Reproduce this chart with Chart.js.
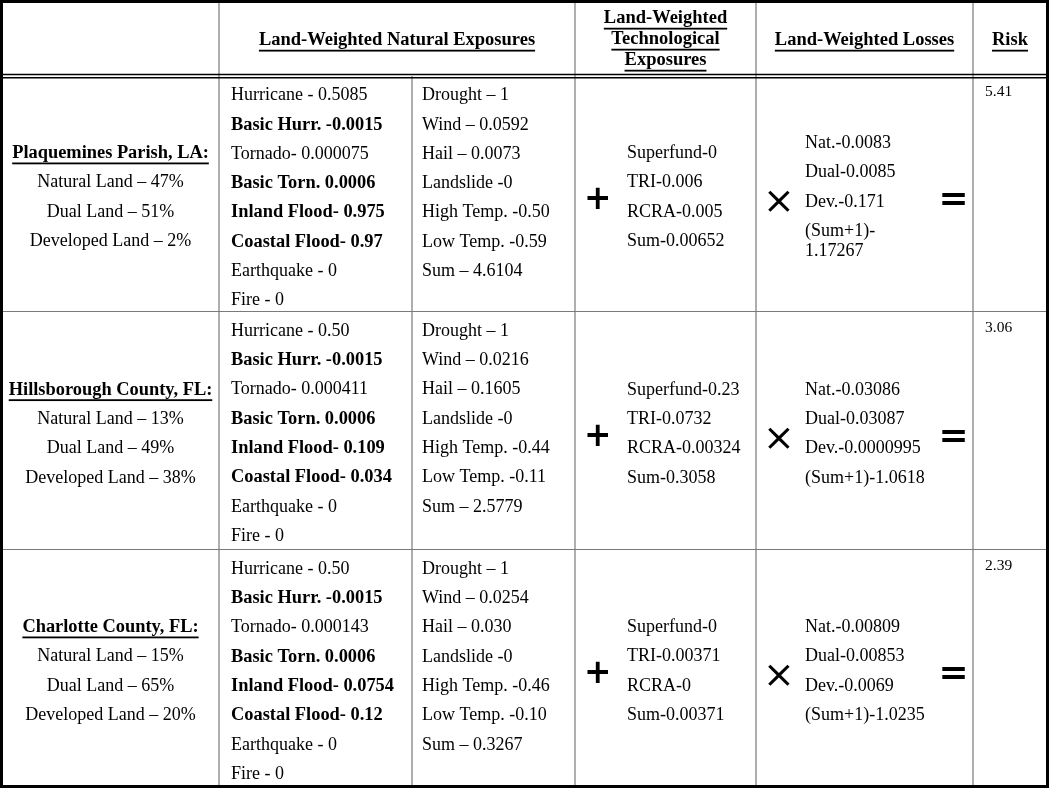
<!DOCTYPE html>
<html>
<head>
<meta charset="UTF-8">
<title>Land-Weighted Risk</title>
<script src="https://cdn.jsdelivr.net/npm/chart.js"></script>
<style>
  body { margin: 0; background: #fff; }
  canvas { display: block; }
</style>
</head>
<body>
<canvas id="riskTable" width="1050" height="788"></canvas>
<script>
const counties = ['Plaquemines Parish, LA:', 'Hillsborough County, FL:', 'Charlotte County, FL:'];
const naturalLand = ['47%', '13%', '15%'];
const dualLand = ['51%', '49%', '65%'];
const developedLand = ['2%', '38%', '20%'];

// natural exposures, first sub-column
const hurricane = ['0.5085', '0.50', '0.50'];
const basicHurr = ['-0.0015', '-0.0015', '-0.0015'];
const tornado = ['0.000075', '0.000411', '0.000143'];
const basicTorn = ['0.0006', '0.0006', '0.0006'];
const inlandFlood = ['0.975', '0.109', '0.0754'];
const coastalFlood = ['0.97', '0.034', '0.12'];
const earthquake = ['0', '0', '0'];
const fire = ['0', '0', '0'];

// natural exposures, second sub-column
const drought = ['1', '1', '1'];
const wind = ['0.0592', '0.0216', '0.0254'];
const hail = ['0.0073', '0.1605', '0.030'];
const landslide = ['0', '0', '0'];
const highTemp = ['-0.50', '-0.44', '-0.46'];
const lowTemp = ['-0.59', '-0.11', '-0.10'];
const naturalSum = ['4.6104', '2.5779', '0.3267'];

// technological exposures
const superfund = ['0', '0.23', '0'];
const tri = ['0.006', '0.0732', '0.00371'];
const rcra = ['0.005', '0.00324', '0'];
const techSum = ['0.00652', '0.3058', '0.00371'];

// losses
const lossNat = ['0.0083', '0.03086', '0.00809'];
const lossDual = ['0.0085', '0.03087', '0.00853'];
const lossDev = ['0.171', '0.0000995', '0.0069'];
const lossSumPlusOne = ['1.17267', '1.0618', '1.0235'];

const risk = ['5.41', '3.06', '2.39'];

const headers = [
  ['Land-Weighted Natural Exposures'],
  ['Land-Weighted', 'Technological', 'Exposures'],
  ['Land-Weighted Losses'],
  ['Risk']
];

// --- layout ---
const colX = [2, 219, 412, 575, 756, 973, 1047];
const rowY = [2, 76, 311.5, 549.5, 786];
const lineStep = 29.3;
const wrapStep = 20;
const serif = '"Liberation Serif", "Times New Roman", serif';
const symFont = '"DejaVu Sans", sans-serif';

function rowLinesA(i) {
  return [
    { t: 'Hurricane - ' + hurricane[i] },
    { t: 'Basic Hurr. ' + basicHurr[i], b: true },
    { t: 'Tornado- ' + tornado[i] },
    { t: 'Basic Torn. ' + basicTorn[i], b: true },
    { t: 'Inland Flood- ' + inlandFlood[i], b: true },
    { t: 'Coastal Flood- ' + coastalFlood[i], b: true },
    { t: 'Earthquake - ' + earthquake[i] },
    { t: 'Fire - ' + fire[i] }
  ];
}
function rowLinesB(i) {
  return [
    'Drought \u2013 ' + drought[i],
    'Wind \u2013 ' + wind[i],
    'Hail \u2013 ' + hail[i],
    'Landslide -' + landslide[i],
    'High Temp. ' + highTemp[i],
    'Low Temp. ' + lowTemp[i],
    'Sum \u2013 ' + naturalSum[i]
  ];
}

const tablePlugin = {
  id: 'tablePlugin',
  afterDraw(chart) {
    const ctx = chart.ctx;
    const sx = chart.scales.x, sy = chart.scales.y;
    const X = v => sx.getPixelForValue(v);
    const Y = v => sy.getPixelForValue(v);

    function text(str, x, y, o) {
      o = o || {};
      const size = o.size || (o.bold ? 18.4 : 18);
      ctx.font = (o.bold ? 'bold ' : '') + size + 'px ' + serif;
      ctx.fillStyle = '#000';
      ctx.textAlign = o.align || 'left';
      ctx.textBaseline = 'middle';
      ctx.fillText(str, X(x), Y(y));
      if (o.underline) {
        const w = ctx.measureText(str).width;
        let x0 = X(x);
        if (o.align === 'center') x0 -= w / 2;
        ctx.fillRect(x0, Y(y) + size * 0.5, w, 1.8);
      }
    }

    // operator glyph, scaled to a target width and centred on its ink box
    function symbol(str, x, y, w, bold) {
      const weight = bold ? 'bold ' : '';
      ctx.font = weight + '100px ' + symFont;
      const m0 = ctx.measureText(str);
      const size = 100 * w / (m0.actualBoundingBoxLeft + m0.actualBoundingBoxRight);
      ctx.font = weight + size + 'px ' + symFont;
      ctx.textAlign = 'left';
      ctx.textBaseline = 'alphabetic';
      const m = ctx.measureText(str);
      const cx = (m.actualBoundingBoxRight - m.actualBoundingBoxLeft) / 2;
      const cy = (m.actualBoundingBoxDescent - m.actualBoundingBoxAscent) / 2;
      ctx.fillStyle = '#000';
      ctx.fillText(str, X(x) - cx, Y(y) - cy);
    }

    ctx.save();
    // header
    const hs = 18.5;
    text(headers[0][0], (colX[1] + colX[3]) / 2, 40.5, { bold: true, size: hs, align: 'center', underline: true });
    headers[1].forEach((h, k) => text(h, (colX[3] + colX[4]) / 2, 18.5 + k * 21, { bold: true, size: hs, align: 'center', underline: true }));
    text(headers[2][0], (colX[4] + colX[5]) / 2, 40.5, { bold: true, size: hs, align: 'center', underline: true });
    text(headers[3][0], (colX[5] + colX[6]) / 2, 40.5, { bold: true, size: hs, align: 'center', underline: true });

    counties.forEach((name, i) => {
      const top = rowY[i + 1] + 2;
      const bottom = rowY[i + 2];
      const mid = (top + bottom) / 2 + 2.5;
      const first = top + 17.5;

      // county block
      const c0 = (colX[0] + colX[1]) / 2;
      const blockTop = mid - 1.5 * lineStep;
      text(name, c0, blockTop, { bold: true, align: 'center', underline: true });
      text('Natural Land \u2013 ' + naturalLand[i], c0, blockTop + lineStep, { align: 'center' });
      text('Dual Land \u2013 ' + dualLand[i], c0, blockTop + 2 * lineStep, { align: 'center' });
      text('Developed Land \u2013 ' + developedLand[i], c0, blockTop + 3 * lineStep, { align: 'center' });

      // natural exposures
      rowLinesA(i).forEach((ln, k) => text(ln.t, colX[1] + 12, first + k * lineStep, { bold: ln.b }));
      rowLinesB(i).forEach((ln, k) => text(ln, colX[2] + 10, first + k * lineStep));

      // technological
      const tech = ['Superfund-' + superfund[i], 'TRI-' + tri[i], 'RCRA-' + rcra[i], 'Sum-' + techSum[i]];
      tech.forEach((ln, k) => text(ln, colX[3] + 52, mid - 1.5 * lineStep + k * lineStep));
      symbol('+', colX[3] + 22.5, mid + 1, 21, true);

      // losses, wrapping the long last entry
      ctx.font = '18px ' + serif;
      const lastFull = '(Sum+1)-' + lossSumPlusOne[i];
      const wraps = ctx.measureText(lastFull).width > 124;
      const loss = ['Nat.-' + lossNat[i], 'Dual-' + lossDual[i], 'Dev.-' + lossDev[i]];
      const span = 3 * lineStep + (wraps ? wrapStep : 0);
      const lt = mid - span / 2;
      loss.forEach((ln, k) => text(ln, colX[4] + 49, lt + k * lineStep));
      if (wraps) {
        text('(Sum+1)-', colX[4] + 49, lt + 3 * lineStep);
        text(lossSumPlusOne[i], colX[4] + 49, lt + 3 * lineStep + wrapStep);
      } else {
        text(lastFull, colX[4] + 49, lt + 3 * lineStep);
      }
      symbol('\u00d7', colX[4] + 23, mid + 3.5, 22, false);
      symbol('=', colX[5] - 19.5, mid + 1, 23, true);

      // risk
      text(risk[i], colX[5] + 12, top + 14, { size: 15.5 });
    });

    // grid lines
    ctx.strokeStyle = '#7a7a7a';
    ctx.lineWidth = 1.2;
    ctx.beginPath();
    [1, 3, 4, 5].forEach(c => { ctx.moveTo(X(colX[c]), Y(rowY[0])); ctx.lineTo(X(colX[c]), Y(rowY[4])); });
    ctx.moveTo(X(colX[2]), Y(rowY[1])); ctx.lineTo(X(colX[2]), Y(rowY[4]));
    [2, 3].forEach(r => { ctx.moveTo(X(colX[0]), Y(rowY[r])); ctx.lineTo(X(colX[6]), Y(rowY[r])); });
    ctx.stroke();

    // double rule under header
    ctx.strokeStyle = '#000';
    ctx.lineWidth = 1.5;
    ctx.beginPath();
    ctx.moveTo(X(colX[0]), Y(74.5)); ctx.lineTo(X(colX[6]), Y(74.5));
    ctx.moveTo(X(colX[0]), Y(77.8)); ctx.lineTo(X(colX[6]), Y(77.8));
    ctx.stroke();

    // outer frame
    ctx.lineWidth = 3;
    ctx.strokeRect(X(colX[0]) - 0.5, Y(rowY[0]) - 0.5, X(colX[6]) - X(colX[0]) + 1, Y(rowY[4]) - Y(rowY[0]) + 1);
    ctx.restore();
  }
};

const chart = new Chart(document.getElementById('riskTable'), {
  type: 'scatter',
  data: { datasets: [] },
  options: {
    responsive: false,
    animation: false,
    devicePixelRatio: 1,
    layout: { padding: 0 },
    plugins: { legend: { display: false }, tooltip: { enabled: false } },
    scales: {
      x: { type: 'linear', min: 0, max: 1050, display: false },
      y: { type: 'linear', min: 0, max: 788, reverse: true, display: false }
    }
  },
  plugins: [tablePlugin]
});
</script>
</body>
</html>
